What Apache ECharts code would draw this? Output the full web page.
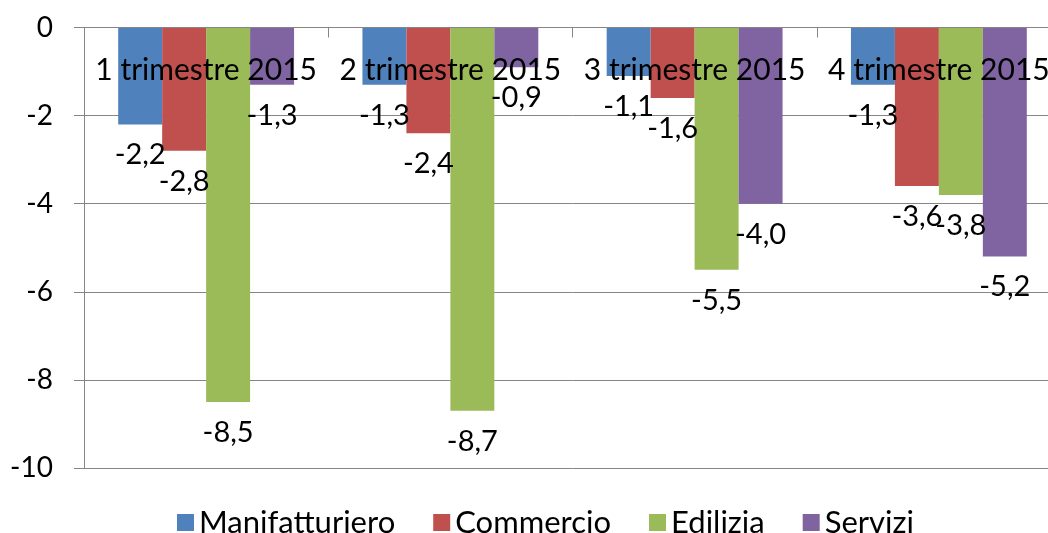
<!DOCTYPE html>
<html>
<head>
<meta charset="utf-8">
<script src="https://cdn.jsdelivr.net/npm/echarts@6/dist/echarts.min.js"></script>
<style>
  html, body { margin: 0; padding: 0; background: #fff; overflow: hidden; }
  #wrap { width: 1048px; height: 533px; overflow: hidden; }
  /* il grafico originale è tagliato a destra: disegno più largo e ritaglio */
  #chart { width: 1070px; height: 533px; }
</style>
</head>
<body>
<div id="wrap"><div id="chart"></div></div>
<script>
// dati per trimestre
var categories = ['1 trimestre 2015', '2 trimestre 2015', '3 trimestre 2015', '4 trimestre 2015']
var manifatturiero = [-2.2, -1.3, -1.1, -1.3]
var commercio = [-2.8, -2.4, -1.6, -3.6]
var edilizia = [-8.5, -8.7, -5.5, -3.8]
var servizi = [-1.3, -0.9, -4.0, -5.2]
var yTicks = [0, -2, -4, -6, -8, -10]

var FONT = 'Lato'
var GRAY = '#868686'

function makeSeries (name, data, color) {
  return {
    name: name,
    type: 'bar',
    data: data,
    barGap: '0%',
    barCategoryGap: '28%',
    itemStyle: { color: color },
    label: {
      show: true,
      position: 'bottom',
      distance: 16,
      color: '#000',
      fontFamily: FONT,
      fontSize: 29,
      formatter: function (p) {
        return p.value.toFixed(1).replace('.', ',')
      }
    }
  }
}

var chart = echarts.init(document.getElementById('chart'))
var option = {
  animation: false,
  textStyle: { fontFamily: FONT },
  grid: { left: 84, top: 27.5, right: 9, bottom: 65, containLabel: false },
  legend: {
    top: 502,
    left: 172,
    itemWidth: 17,
    itemHeight: 17,
    itemGap: 38,
    icon: 'rect',
    textStyle: { fontFamily: FONT, fontSize: 31, color: '#000' },
    data: ['Manifatturiero', 'Commercio', 'Edilizia', 'Servizi']
  },
  xAxis: {
    type: 'category',
    position: 'top',
    data: categories,
    z: 10,
    axisLine: { show: true, lineStyle: { color: GRAY } },
    axisTick: { show: true, inside: true, length: 10, lineStyle: { color: GRAY } },
    axisLabel: { inside: true, margin: 28, color: '#000', fontFamily: FONT, fontSize: 30, interval: 0 }
  },
  yAxis: {
    type: 'value',
    min: yTicks[yTicks.length - 1],
    max: yTicks[0],
    interval: 2,
    axisLine: { show: true, lineStyle: { color: GRAY } },
    axisTick: { show: true, length: 10, lineStyle: { color: GRAY } },
    axisLabel: { margin: 31, color: '#000', fontFamily: FONT, fontSize: 28 },
    splitLine: { show: true, lineStyle: { color: GRAY, width: 1 } }
  },
  series: [
    makeSeries('Manifatturiero', manifatturiero, '#4F81BD'),
    makeSeries('Commercio', commercio, '#C0504D'),
    makeSeries('Edilizia', edilizia, '#9BBB59'),
    makeSeries('Servizi', servizi, '#8064A2')
  ]
}
chart.setOption(option)
</script>
</body>
</html>
